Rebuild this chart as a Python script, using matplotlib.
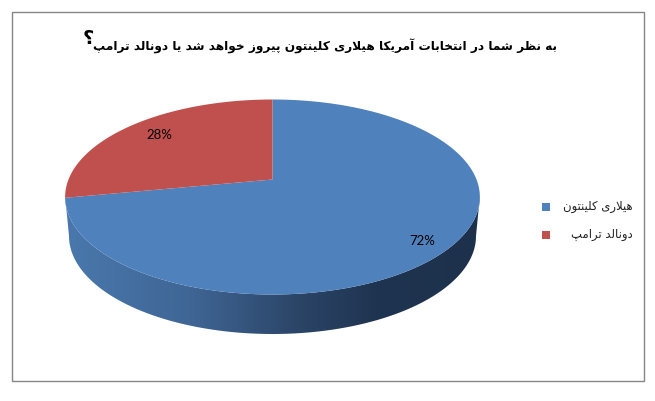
import matplotlib
matplotlib.use('Agg')
import matplotlib.pyplot as plt
import numpy as np
from matplotlib.colors import LinearSegmentedColormap
from matplotlib.patches import Polygon, Rectangle

# Data
title = "به نظر شما در انتخابات آمریکا هیلاری کلینتون پیروز خواهد شد یا دونالد ترامپ"
labels = ["هیلاری کلینتون", "دونالد ترامپ"]
values = [72, 28]
pct_labels = ["72%", "28%"]
colors = ["#4f81bd", "#c0504d"]

# Presentation forms: isolated, final, initial, medial
FORMS = {
    'ا': (0xFE8D, 0xFE8E), 'آ': (0xFE81, 0xFE82), 'د': (0xFEA9, 0xFEAA),
    'ر': (0xFEAD, 0xFEAE), 'ز': (0xFEAF, 0xFEB0), 'و': (0xFEED, 0xFEEE),
    'ب': (0xFE8F, 0xFE90, 0xFE91, 0xFE92), 'پ': (0xFB56, 0xFB57, 0xFB58, 0xFB59),
    'ت': (0xFE95, 0xFE96, 0xFE97, 0xFE98), 'خ': (0xFEA5, 0xFEA6, 0xFEA7, 0xFEA8),
    'ش': (0xFEB5, 0xFEB6, 0xFEB7, 0xFEB8), 'ظ': (0xFEC5, 0xFEC6, 0xFEC7, 0xFEC8),
    'ک': (0xFB8E, 0xFB8F, 0xFB90, 0xFB91), 'ل': (0xFEDD, 0xFEDE, 0xFEDF, 0xFEE0),
    'م': (0xFEE1, 0xFEE2, 0xFEE3, 0xFEE4), 'ن': (0xFEE5, 0xFEE6, 0xFEE7, 0xFEE8),
    'ه': (0xFEE9, 0xFEEA, 0xFEEB, 0xFEEC), 'ی': (0xFBFC, 0xFBFD, 0xFBFE, 0xFBFF),
}


def shape(text):
    # matplotlib does no Arabic shaping, so pick the forms and lay out right to left
    text = text.replace('لا', '\ufdf2')
    out = []
    for i, c in enumerate(text):
        prev = text[i - 1] if i > 0 else ' '
        nxt = text[i + 1] if i < len(text) - 1 else ' '
        joins_prev = prev in FORMS and len(FORMS[prev]) == 4
        joins_next = nxt in FORMS or nxt == '\ufdf2'
        if c == '\ufdf2':
            out.append(chr(0xFEFC if joins_prev else 0xFEFB))
        elif c not in FORMS:
            out.append(c)
        else:
            f = FORMS[c]
            if len(f) == 2:
                out.append(chr(f[1] if joins_prev else f[0]))
            elif joins_prev and joins_next:
                out.append(chr(f[3]))
            elif joins_prev:
                out.append(chr(f[1]))
            elif joins_next:
                out.append(chr(f[2]))
            else:
                out.append(chr(f[0]))
    return ''.join(reversed(out))


def project(theta):
    # tilted disc: clockwise angle from 12 o'clock to picture position
    x, y = np.sin(theta), np.cos(theta)
    w = 1 + 0.1795 * y
    return 272.5 + 204 * x / w, 180.5 - 94.36 * y / w


fig = plt.figure(figsize=(6.55, 4.02), dpi=100)
ax = fig.add_axes([0, 0, 1, 1])
ax.set_xlim(0, 655)
ax.set_ylim(402, 0)
ax.axis('off')

ax.add_patch(Rectangle((11.5, 12.5), 632, 369, fill=False, edgecolor='#868686', linewidth=1))

# Side of the pie, gradient clipped to the wall outline
t = np.linspace(0, 2 * np.pi, 361)
top_x, top_y = project(t)
left = np.argmin(top_x)
right = np.argmax(top_x)
front_x, front_y = top_x[right:left + 1], top_y[right:left + 1]
t_low = np.linspace(np.pi / 2, 3 * np.pi / 2, 181)
low_x = 272.5 + 203.5 * np.sin(t_low)
low_y = 237 - 98 * np.cos(t_low)
wall = Polygon(np.r_[np.c_[front_x, front_y], np.c_[low_x, low_y][::-1]], closed=True,
               facecolor='none', edgecolor='none', transform=ax.transData)
ax.add_patch(wall)
cmap = LinearSegmentedColormap.from_list('wall', [(0, '#4a78ad'), (0.3, '#3f6695'), (0.55, '#2c4669'),
                                                  (0.75, '#1f3450'), (1, '#1d314c')])
img = ax.imshow(np.linspace(0, 1, 256)[None, :], extent=(65, 480, 340, 190), cmap=cmap,
                aspect='auto', zorder=1)
img.set_clip_path(wall)
ax.set_xlim(0, 655)
ax.set_ylim(402, 0)

# Top of the pie
edges = np.cumsum([0] + values) / sum(values) * 2 * np.pi
for start, end, color in zip(edges[:-1], edges[1:], colors):
    a = np.linspace(start, end, 300)
    px, py = project(a)
    ax.fill(np.r_[272.5, px], np.r_[180.5, py], color=color, lw=0, zorder=2)

ax.text(422, 241, pct_labels[0], fontsize=9.5, family='Lato', ha='center', va='center', color='black', zorder=3)
ax.text(159, 135, pct_labels[1], fontsize=9.5, family='Lato', ha='center', va='center', color='black', zorder=3)

ax.text(325, 46, shape(title), fontsize=8.7, fontweight='bold', family='DejaVu Sans',
        ha='center', va='center', color='black')
ax.text(88, 39, '؟', fontsize=14, fontweight='bold', family='DejaVu Sans', ha='center', va='center')

for y, label, color in zip([208, 235.5], labels, colors):
    ax.add_patch(Rectangle((542, y - 4), 8, 8, facecolor=color, edgecolor='none'))
    ax.text(633, y - 1, shape(label), fontsize=8.4, family='DejaVu Sans', ha='right', va='center', color='#222222')

fig.savefig('out.png', dpi=100, facecolor='white')
